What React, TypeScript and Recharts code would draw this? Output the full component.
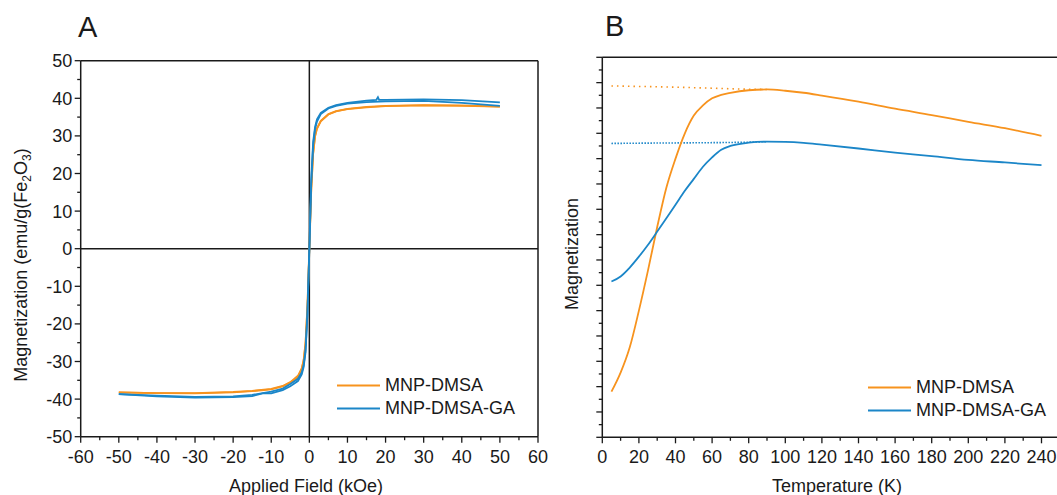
import React from "react";
import { LineChart, Line, XAxis, YAxis, ReferenceLine, Legend, Label } from "recharts";

const ORANGE = "#f7931e";
const BLUE = "#1b86c8";
const INK = "#1a1a1a";
const FONT = "'Liberation Sans', Arial, sans-serif";

// ---- Panel A: M(H) loops, field in kOe, magnetization in emu/g(Fe2O3)
const FIELD_TICKS = [-60, -55, -50, -45, -40, -35, -30, -25, -20, -15, -10, -5, 0, 5, 10, 15, 20, 25, 30, 35, 40, 45, 50, 55, 60];
const MAG_TICKS = [-50, -45, -40, -35, -30, -25, -20, -15, -10, -5, 0, 5, 10, 15, 20, 25, 30, 35, 40, 45, 50];

const FIELD_DOWN = [50, 40, 30, 20, 15, 10, 7, 5, 3, 2, 1.5, 1, 0.5, 0, -0.5, -1, -1.5, -2, -3, -5, -7, -10, -15, -20, -30, -40, -50];
const FIELD_UP = [-50, -40, -30, -20, -15, -10, -7, -5, -3, -2, -1.5, -1, -0.5, 0, 0.5, 1, 1.5, 2, 3, 5, 7, 10, 15, 20, 30, 40, 50];

const DMSA_DOWN = [37.8, 38.1, 38.2, 38.0, 37.7, 37.2, 36.6, 35.8, 34.0, 32.0, 30.0, 25.5, 16.0, 0.5, -15.0, -25.0, -29.8, -32.0, -34.2, -35.6, -36.6, -37.4, -37.9, -38.2, -38.5, -38.4, -38.2];
const DMSA_UP = [-38.2, -38.4, -38.4, -38.1, -37.8, -37.3, -36.5, -35.5, -33.8, -31.8, -29.6, -25.2, -15.5, -0.5, 15.5, 25.2, 29.8, 31.9, 33.9, 35.7, 36.5, 37.1, 37.6, 37.9, 38.1, 38.0, 37.8];

const GA_FIELD_DOWN = [50, 40, 30, 20, 18.3, 18, 17.6, 15, 10, 7, 5, 3, 2, 1.5, 1, 0.5, 0, -0.5, -1, -1.5, -2, -3, -5, -7, -10, -12, -15, -20, -30, -40, -50];
const GA_DOWN = [38.9, 39.5, 39.7, 39.6, 39.6, 40.3, 39.6, 39.4, 38.8, 38.2, 37.5, 36.1, 34.4, 32.4, 28.5, 18.5, 0.5, -17.5, -27.5, -31.5, -33.4, -35.2, -36.6, -37.6, -38.5, -38.4, -39.2, -39.5, -39.6, -39.3, -38.7];
const GA_UP = [-38.7, -39.1, -39.4, -39.3, -38.9, -38.0, -37.2, -36.0, -34.6, -32.9, -31.0, -27.0, -17.0, -0.5, 17.5, 27.5, 31.8, 33.8, 35.8, 37.3, 38.0, 38.6, 39.0, 39.2, 39.3, 38.8, 38.0];

// ---- Panel B: ZFC / FC curves (arbitrary units)
const TEMP_TICKS = [0, 10, 20, 30, 40, 50, 60, 70, 80, 90, 100, 110, 120, 130, 140, 150, 160, 170, 180, 190, 200, 210, 220, 230, 240, 250];
const ARB_TICKS = Array.from({ length: 31 }, (_, i) => i / 2);

const TEMP_ZFC = [5, 10, 15, 20, 25, 30, 35, 40, 45, 50, 55, 60, 65, 70, 80, 90, 100, 110, 120, 140, 160, 180, 200, 220, 240];
const DMSA_ZFC = [1.8, 2.55, 3.55, 5.0, 6.6, 8.3, 9.85, 11.0, 11.98, 12.7, 13.1, 13.38, 13.52, 13.6, 13.7, 13.73, 13.68, 13.6, 13.49, 13.25, 12.97, 12.72, 12.45, 12.2, 11.9];
const GA_ZFC = [6.15, 6.35, 6.7, 7.13, 7.6, 8.12, 8.65, 9.18, 9.72, 10.2, 10.68, 11.05, 11.35, 11.5, 11.63, 11.67, 11.66, 11.62, 11.55, 11.4, 11.24, 11.1, 10.95, 10.85, 10.74];

const TEMP_FC = [5, 20, 40, 60, 80, 90];
const DMSA_FC = [13.87, 13.85, 13.82, 13.78, 13.74, 13.73];
const GA_FC = [11.6, 11.61, 11.62, 11.63, 11.65, 11.67];

const SERIES_NAMES = ["MNP-DMSA", "MNP-DMSA-GA"];

const pairs = (xs: number[], ys: number[]) => xs.map((x, i) => ({ x, y: ys[i] }));

const isMajor = (v: number, step: number) => Math.abs(v / step - Math.round(v / step)) < 1e-6;

// tickSize/tickMargin are 0, so p.x / p.y sit right on the axis line
function xTick(step: number) {
  return (p: any) => {
    const v = p.payload.value;
    const major = isMajor(v, step);
    return (
      <g>
        <line x1={p.x} x2={p.x} y1={p.y} y2={p.y + (major ? 6 : 3.5)} stroke={INK} strokeWidth={1.3} />
        {major && (
          <text x={p.x} y={p.y + 26} textAnchor="middle" fontSize={18} fill={INK} fontFamily={FONT}>
            {v}
          </text>
        )}
      </g>
    );
  };
}

function yTick(step: number, labels: boolean) {
  return (p: any) => {
    const v = p.payload.value;
    const major = isMajor(v, step);
    return (
      <g>
        <line x1={p.x} x2={p.x - (major ? 6 : 3.5)} y1={p.y} y2={p.y} stroke={INK} strokeWidth={1.3} />
        {labels && major && (
          <text x={p.x - 8.5} y={p.y} dy="0.36em" textAnchor="end" fontSize={18} fill={INK} fontFamily={FONT}>
            {v}
          </text>
        )}
      </g>
    );
  };
}

function LegendBox() {
  const colors = [ORANGE, BLUE];
  return (
    <div style={{ fontFamily: FONT, fontSize: 18, color: INK }}>
      {SERIES_NAMES.map((n, i) => (
        <div key={n} style={{ display: "flex", alignItems: "center", height: 23, whiteSpace: "nowrap" }}>
          <svg width={43} height={23} style={{ marginRight: 5 }}>
            <line x1={0} x2={43} y1={11.5} y2={11.5} stroke={colors[i]} strokeWidth={2} />
          </svg>
          <span style={{ lineHeight: "23px" }}>{n}</span>
        </div>
      ))}
    </div>
  );
}

const axisLine = { stroke: INK, strokeWidth: 1.5 };

export default function App() {
  return (
    <div style={{ position: "absolute", left: 0, top: 0, width: 1057, height: 495, overflow: "hidden", background: "#fff" }}>
      <div style={{ position: "absolute", left: 78, top: 13, fontFamily: FONT, fontSize: 29, lineHeight: "29px", color: INK }}>A</div>
      <div style={{ position: "absolute", left: 605, top: 12, fontFamily: FONT, fontSize: 29, lineHeight: "29px", color: INK }}>B</div>

      <div style={{ position: "absolute", left: 0, top: 0 }}>
        <LineChart width={548} height={495} margin={{ top: 59.7, right: 9, bottom: 28.3, left: 40.7 }}>
          <XAxis dataKey="x" type="number" domain={[-60, 60]} ticks={FIELD_TICKS} interval={0} height={30}
            tickSize={0} tickMargin={0} tickLine={false} tick={xTick(10)} axisLine={axisLine} allowDataOverflow>
            <Label content={() => (
              <text x={306} y={492} textAnchor="middle" fontSize={18} fill={INK} fontFamily={FONT}>Applied Field (kOe)</text>
            )} />
          </XAxis>
          <XAxis xAxisId="top" orientation="top" type="number" domain={[-60, 60]} height={1} tick={false} tickLine={false} axisLine={axisLine} />
          <YAxis type="number" domain={[-50, 50]} ticks={MAG_TICKS} interval={0} width={40}
            tickSize={0} tickMargin={0} tickLine={false} tick={yTick(10, true)} axisLine={axisLine} allowDataOverflow>
            <Label content={() => (
              <text transform="rotate(-90)" x={-265} y={27} textAnchor="middle" fontSize={18} fill={INK} fontFamily={FONT}>
                Magnetization (emu/g(Fe<tspan dy={4} fontSize={12}>2</tspan><tspan dy={-4}>O</tspan><tspan dy={4} fontSize={12}>3</tspan><tspan dy={-4}>)</tspan>
              </text>
            )} />
          </YAxis>
          <YAxis yAxisId="right" orientation="right" type="number" domain={[-50, 50]} width={1} tick={false} tickLine={false} axisLine={axisLine} />
          <ReferenceLine x={0} stroke={INK} strokeWidth={1.5} />
          <ReferenceLine y={0} stroke={INK} strokeWidth={1.5} />
          <Line data={pairs(FIELD_DOWN, DMSA_DOWN)} dataKey="y" type="linear" stroke={ORANGE} strokeWidth={1.8} dot={false} activeDot={false} isAnimationActive={false} />
          <Line data={pairs(FIELD_UP, DMSA_UP)} dataKey="y" type="linear" stroke={ORANGE} strokeWidth={1.8} dot={false} activeDot={false} isAnimationActive={false} />
          <Line data={pairs(GA_FIELD_DOWN, GA_DOWN)} dataKey="y" type="linear" stroke={BLUE} strokeWidth={1.8} dot={false} activeDot={false} isAnimationActive={false} />
          <Line data={pairs(FIELD_UP, GA_UP)} dataKey="y" type="linear" stroke={BLUE} strokeWidth={1.8} dot={false} activeDot={false} isAnimationActive={false} />
          <Legend layout="vertical" align="center" verticalAlign="middle" content={() => <LegendBox />}
            wrapperStyle={{ left: 337, top: 374, width: 200 }} />
        </LineChart>
      </div>

      <div style={{ position: "absolute", left: 540, top: 0 }}>
        <LineChart width={530} height={495} margin={{ top: 56.3, right: 9.2, bottom: 27.7, left: 22.3 }}>
          <XAxis dataKey="x" type="number" domain={[0, 250]} ticks={TEMP_TICKS} interval={0} height={30}
            tickSize={0} tickMargin={0} tickLine={false} tick={xTick(20)} axisLine={axisLine} allowDataOverflow>
            <Label content={() => (
              <text x={297} y={492} textAnchor="middle" fontSize={18} fill={INK} fontFamily={FONT}>Temperature (K)</text>
            )} />
          </XAxis>
          <XAxis xAxisId="top" orientation="top" type="number" domain={[0, 250]} height={1} tick={false} tickLine={false} axisLine={axisLine} />
          <YAxis type="number" domain={[0, 15]} ticks={ARB_TICKS} interval={0} width={40}
            tickSize={0} tickMargin={0} tickLine={false} tick={yTick(1, false)} axisLine={axisLine} allowDataOverflow>
            <Label content={() => (
              <text transform="rotate(-90)" x={-254} y={38} textAnchor="middle" fontSize={18} fill={INK} fontFamily={FONT}>Magnetization</text>
            )} />
          </YAxis>
          <YAxis yAxisId="right" orientation="right" type="number" domain={[0, 15]} width={1} tick={false} tickLine={false} axisLine={axisLine} />
          <Line data={pairs(TEMP_FC, DMSA_FC)} dataKey="y" type="monotone" stroke={ORANGE} strokeWidth={1.6} strokeDasharray="1.5 4" dot={false} activeDot={false} isAnimationActive={false} />
          <Line data={pairs(TEMP_FC, GA_FC)} dataKey="y" type="monotone" stroke={BLUE} strokeWidth={1.6} strokeDasharray="1.5 1.5" dot={false} activeDot={false} isAnimationActive={false} />
          <Line data={pairs(TEMP_ZFC, DMSA_ZFC)} dataKey="y" type="monotone" stroke={ORANGE} strokeWidth={1.8} dot={false} activeDot={false} isAnimationActive={false} />
          <Line data={pairs(TEMP_ZFC, GA_ZFC)} dataKey="y" type="monotone" stroke={BLUE} strokeWidth={1.8} dot={false} activeDot={false} isAnimationActive={false} />
          <Legend layout="vertical" align="center" verticalAlign="middle" content={() => <LegendBox />}
            wrapperStyle={{ left: 328, top: 376, width: 200 }} />
        </LineChart>
      </div>
    </div>
  );
}
